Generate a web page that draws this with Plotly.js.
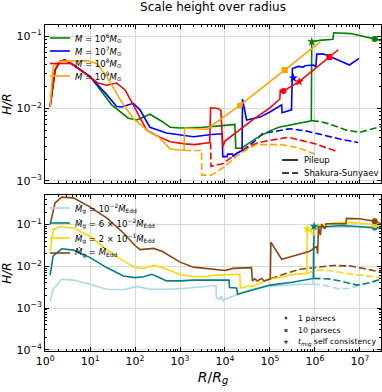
<!DOCTYPE html>
<html>
<head>
<meta charset="utf-8">
<script src="https://cdn.plot.ly/plotly-3.0.1.min.js"></script>
<style>
  html, body { margin: 0; padding: 0; background: #fff; }
  #chart { width: 382px; height: 392px; }
</style>
</head>
<body>
<div id="chart"></div>
<script>
// ---- top panel: H/R for four black hole masses ----
// M = 1e6 Msun (green)
const m6R = [1.29, 1.66, 2.14, 2.75, 4.27, 10, 30.2, 70.8, 110, 214, 398, 603, 1000, 2000, 3311, 7760, 16600, 17400, 23400, 50100, 1e5, 1.58e5, 3.16e5, 5.62e5, 8.32e5, 8.51e5, 1.26e6, 2.51e6, 2.63e6, 6.31e6, 2.14e7, 2.95e7];
const m6H = [0.0106, 0.0339, 0.0447, 0.0468, 0.0398, 0.0275, 0.0112, 0.00733, 0.00692, 0.00832, 0.00661, 0.0055, 0.00537, 0.00543, 0.0055, 0.00575, 0.00603, 0.00282, 0.00282, 0.00389, 0.0049, 0.0055, 0.00603, 0.00646, 0.00676, 0.0832, 0.0871, 0.0902, 0.111, 0.108, 0.0912, 0.0871];
const m6SsR = [8.51e5, 1.26e6, 2.0e6, 3.02e6, 5.01e6, 1e7, 1.58e7, 2.95e7];
const m6SsH = [0.00676, 0.00661, 0.00617, 0.00562, 0.00501, 0.00468, 0.00501, 0.00562];

// M = 1e7 Msun (blue)
const m7R = [1.29, 1.66, 2.14, 2.75, 4.27, 10, 23.4, 38.9, 50.1, 91.2, 129, 214, 501, 1288, 1995, 5012, 8710, 8913, 11200, 11500, 14800, 15100, 18200, 24000, 24500, 30200, 60300, 1e5, 1.82e5, 1.86e5, 3.02e5, 3.16e5, 3.55e5, 4.27e5, 5.5e5, 6.03e5, 9.12e5, 1.05e6, 1.1e6, 1.58e6, 2.51e6, 5.89e6, 9.55e6];
const m7H = [0.0106, 0.0339, 0.0447, 0.0468, 0.0398, 0.0275, 0.0155, 0.0106, 0.01047, 0.01175, 0.00955, 0.0055, 0.00457, 0.00417, 0.00407, 0.00437, 0.00447, 0.00216, 0.00216, 0.00234, 0.00234, 0.00216, 0.0024, 0.00263, 0.0135, 0.00692, 0.00759, 0.00891, 0.0112, 0.00871, 0.00955, 0.0355, 0.0363, 0.038, 0.0372, 0.0389, 0.0398, 0.038, 0.0562, 0.0562, 0.0501, 0.0398, 0.049];
const m7SsR = [24500, 42700, 70800, 1e5, 2.75e5, 6.31e5, 1.58e6, 3.98e6, 9.12e6];
const m7SsH = [0.00263, 0.00339, 0.00457, 0.00468, 0.00525, 0.0049, 0.00427, 0.00372, 0.00339];

// M = 1e8 Msun (red)
const m8R = [1.29, 1.66, 2.14, 2.75, 4.27, 10, 15.1, 23.4, 38.9, 60.3, 100, 182, 363, 603, 1288, 2138, 3548, 4571, 4786, 7079, 8128, 8913, 1e4, 42700, 1e5, 1.66e5, 1.7e5, 2.0e5, 4.47e5, 2.09e6, 3.31e6];
const m8H = [0.0106, 0.0339, 0.0447, 0.0468, 0.0398, 0.0275, 0.0224, 0.0209, 0.0224, 0.018, 0.01, 0.00501, 0.00398, 0.00347, 0.00324, 0.00316, 0.00331, 0.00339, 0.0102, 0.01, 0.00933, 0.00295, 0.00355, 0.00708, 0.0102, 0.0135, 0.0178, 0.0174, 0.0234, 0.0513, 0.0646];
const m8SsR = [4786, 4900, 9120, 18200, 50100, 1e5, 2.57e5, 9.12e5, 3.31e6];
const m8SsH = [0.00339, 0.00158, 0.00174, 0.0024, 0.00331, 0.00363, 0.00398, 0.00331, 0.00251];

// M = 1e9 Msun (orange)
const m9R = [1.29, 1.51, 2.14, 4.27, 8.5, 14.1, 23.4, 46.8, 91.2, 214, 331, 603, 1000, 1230, 1259, 2754, 3311, 3890, 21400, 2.14e5, 1.32e6];
const m9H = [0.0106, 0.038, 0.0447, 0.0447, 0.0457, 0.0417, 0.0275, 0.0132, 0.00724, 0.00468, 0.00407, 0.00275, 0.00263, 0.00263, 0.00537, 0.00525, 0.00513, 0.00513, 0.011, 0.0339, 0.0832];
const m9SsR = [1230, 3020, 3050, 5012, 1e4, 18200, 30200, 50100, 1e5, 1.82e5, 4.68e5, 1e6];
const m9SsH = [0.00263, 0.00263, 0.0012, 0.0012, 0.00158, 0.00219, 0.00269, 0.00316, 0.00316, 0.00316, 0.00282, 0.00234];

// markers, top panel (mass key tells which curve)
const topPc1R = [21400, 2.0e5, 2.14e7];
const topPc1H = [0.011, 0.0174, 0.0912];
const topPc1Mass = ['1e9', '1e8', '1e6'];
const topPc10R = [2.14e5, 2.09e6];
const topPc10H = [0.0339, 0.0513];
const topPc10Mass = ['1e9', '1e8'];
const topTmigR = [3.31e5, 4.47e5, 8.51e5];
const topTmigH = [0.0263, 0.0234, 0.0832];
const topTmigMass = ['1e7', '1e8', '1e6'];

// ---- bottom panel: H/R for four gas accretion rates ----
// Mdot = 1e-2 Mdot_Edd (light blue)
const r1R = [1.29, 1.51, 2.34, 4.27, 10, 23.4, 55, 110, 214, 501, 1175, 3890, 6026, 6310, 6457, 7586, 8318, 9120, 1e4, 2.0e4, 3.63e4, 8.51e4, 2.0e5, 4.68e5, 8.91e5, 9.12e5, 9.77e5, 1e6, 2.0e6, 5.01e6, 1.26e7, 2.95e7];
const r1H = [0.00148, 0.00282, 0.0049, 0.00468, 0.00372, 0.00282, 0.00275, 0.00331, 0.00282, 0.00282, 0.00295, 0.00324, 0.00347, 0.00347, 0.00178, 0.00162, 0.00195, 0.00148, 0.00162, 0.00214, 0.00275, 0.00331, 0.00355, 0.00372, 0.00372, 0.0355, 0.0355, 0.0871, 0.0851, 0.0891, 0.0851, 0.0776];
const r1SsR = [9.12e5, 1.58e6, 3.63e6, 6.31e6, 1.26e7, 2.95e7];
const r1SsH = [0.00372, 0.00355, 0.00282, 0.00302, 0.00372, 0.0049];

// Mdot = 6e-2 Mdot_Edd (teal)
const r6R = [1.29, 1.51, 2.34, 4.27, 10, 23.4, 55, 100, 155, 234, 316, 501, 1000, 1995, 3890, 12300, 12600, 15800, 18200, 19100, 31600, 1e5, 3.16e5, 6.46e5, 9.33e5, 9.55e5, 1.58e6, 3.98e6, 1e7, 2.95e7];
const r6H = [0.00617, 0.0178, 0.0263, 0.0245, 0.0162, 0.00933, 0.00589, 0.00537, 0.00562, 0.00646, 0.00562, 0.00447, 0.00447, 0.00468, 0.00468, 0.00468, 0.00309, 0.00302, 0.00302, 0.00214, 0.00251, 0.00355, 0.00417, 0.0049, 0.00513, 0.0912, 0.0891, 0.0955, 0.0891, 0.0832];
const r6SsR = [9.33e5, 2.0e6, 3.98e6, 8.51e6, 1.58e7, 2.95e7];
const r6SsH = [0.00513, 0.00501, 0.00437, 0.00355, 0.00398, 0.0049];

// Mdot = 2e-1 Mdot_Edd (gold)
const r20R = [1.29, 1.51, 2.14, 4.27, 10, 23.4, 55, 100, 155, 257, 398, 1000, 1995, 3890, 6026, 21400, 21900, 28200, 29500, 36300, 39800, 1e5, 2.0e5, 3.31e5, 6.61e5, 6.76e5, 7.94e5, 8.91e5, 9.55e5, 1e6, 1.41e6, 3.63e6, 7.08e6, 1.41e7, 2.95e7];
const r20H = [0.0229, 0.0759, 0.0891, 0.0832, 0.0525, 0.0251, 0.0135, 0.00933, 0.00891, 0.0105, 0.00933, 0.00646, 0.00562, 0.00562, 0.00617, 0.00646, 0.00309, 0.00309, 0.00339, 0.00339, 0.00324, 0.0049, 0.00562, 0.00646, 0.00676, 0.0794, 0.0759, 0.0575, 0.0575, 0.0912, 0.1, 0.112, 0.11, 0.105, 0.0912];
const r20SsR = [6.76e5, 1e6, 2.0e6, 3.63e6, 7.94e6, 2.95e7];
const r20SsH = [0.00676, 0.00813, 0.00794, 0.00708, 0.00631, 0.00537];

// Mdot = Mdot_Edd (brown)
const r100R = [1.29, 1.66, 2.34, 4.27, 10, 23.4, 55, 100, 129, 257, 398, 1000, 1995, 3890, 1e4, 15100, 38900, 40700, 45700, 52500, 64600, 74100, 1.02e5, 1.05e5, 1.82e5, 3.16e5, 7.76e5, 1e6, 1.1e6, 1.15e6, 1.2e6, 1.32e6, 1.41e6, 1.66e6, 1.78e6, 4.9e6, 5.01e6, 1e7, 2.14e7, 2.95e7];
const r100H = [0.1, 0.331, 0.457, 0.437, 0.263, 0.145, 0.0631, 0.0316, 0.0251, 0.0269, 0.0229, 0.0126, 0.00955, 0.00891, 0.00794, 0.00891, 0.00933, 0.00447, 0.00501, 0.00447, 0.00513, 0.00447, 0.00501, 0.038, 0.0148, 0.0174, 0.0229, 0.0282, 0.0295, 0.02, 0.0891, 0.0562, 0.102, 0.0794, 0.105, 0.105, 0.141, 0.138, 0.12, 0.105];
const r100SsR = [1.05e5, 2.0e5, 4.68e5, 1e6, 2.57e6, 6.31e6, 1.41e7, 2.95e7];
const r100SsH = [0.00501, 0.00646, 0.00851, 0.00933, 0.0105, 0.0102, 0.00851, 0.00724];

// markers, bottom panel
const botPc1R = [2.14e7, 2.14e7, 2.14e7, 2.14e7];
const botPc1H = [0.081, 0.086, 0.098, 0.12];
const botPc1Rate = ['1e-2', '6e-2', '2e-1', '1'];
const botTmigR = [6.76e5, 9.55e5];
const botTmigH = [0.0794, 0.0912];
const botTmigRate = ['2e-1', '6e-2'];

// legend texts
const massLabels = [
  '<i>M</i> = 10<sup>6</sup><i>M</i><sub>⊙</sub>',
  '<i>M</i> = 10<sup>7</sup><i>M</i><sub>⊙</sub>',
  '<i>M</i> = 10<sup>8</sup><i>M</i><sub>⊙</sub>',
  '<i>M</i> = 10<sup>9</sup><i>M</i><sub>⊙</sub>'
];
const rateLabels = [
  '<i>Ṁ</i><sub>g</sub> = 10<sup>−2</sup><i>Ṁ</i><sub>Edd</sub>',
  '<i>Ṁ</i><sub>g</sub> = 6 × 10<sup>−2</sup><i>Ṁ</i><sub>Edd</sub>',
  '<i>Ṁ</i><sub>g</sub> = 2 × 10<sup>−1</sup><i>Ṁ</i><sub>Edd</sub>',
  '<i>Ṁ</i><sub>g</sub> = <i>Ṁ</i><sub>Edd</sub>'
];
const styleLabels = ['Pileup', 'Shakura-Sunyaev'];
const markerLabels = ['1 parsecs', '10 parsecs', '<i>t</i><sub><i>mig</i></sub> self consistency'];

const xTickVals = [1, 10, 100, 1e3, 1e4, 1e5, 1e6, 1e7];
const xTickText = ['10<sup>0</sup>', '10<sup>1</sup>', '10<sup>2</sup>', '10<sup>3</sup>', '10<sup>4</sup>', '10<sup>5</sup>', '10<sup>6</sup>', '10<sup>7</sup>'];
const yTopTickVals = [1e-3, 1e-2, 1e-1];
const yTopTickText = ['10<sup>−3</sup>', '10<sup>−2</sup>', '10<sup>−1</sup>'];
const yBotTickVals = [1e-4, 1e-3, 1e-2, 1e-1];
const yBotTickText = ['10<sup>−4</sup>', '10<sup>−3</sup>', '10<sup>−2</sup>', '10<sup>−1</sup>'];

// ---- styling ----
const massKeys = ['1e6', '1e7', '1e8', '1e9'];
const massColor = { '1e6': '#008000', '1e7': '#0000ff', '1e8': '#ff0000', '1e9': '#ffa500' };
const rateKeys = ['1e-2', '6e-2', '2e-1', '1'];
const rateColor = { '1e-2': '#add8e6', '6e-2': '#008080', '2e-1': '#ffd700', '1': '#8b4513' };
const LW = 1.6;
const DASH = '7px,3px';
const FONT = 'DejaVu Sans';

// plot area in pixels -> paper coords (for legend decoration)
const px2x = px => (px - 45) / 336;
const py2y = py => (351 - py) / 326;

function lineTrace(R, H, color, dashed, xa, ya) {
  return {
    x: R, y: H, xaxis: xa, yaxis: ya,
    type: 'scatter', mode: 'lines',
    line: { color: color, width: LW, dash: dashed ? DASH : 'solid' },
    hoverinfo: 'skip'
  };
}

function markerTrace(R, H, colors, symbol, size, xa, ya) {
  return {
    x: R, y: H, xaxis: xa, yaxis: ya,
    type: 'scatter', mode: 'markers',
    marker: { color: colors, symbol: symbol, size: size, line: { width: 0 } },
    hoverinfo: 'skip'
  };
}

function minorVals(d0, d1, max) {
  const vals = [];
  for (let d = d0; d <= d1; d++) {
    for (let k = 2; k <= 9; k++) {
      const v = k * Math.pow(10, d);
      if (v <= max) vals.push(v);
    }
  }
  return vals;
}

function logAxis(extra) {
  return Object.assign({
    type: 'log',
    showline: true, linecolor: '#000', linewidth: 1,
    mirror: 'allticks', ticks: 'inside', ticklen: 4, tickwidth: 1, tickcolor: '#000',
    showgrid: true, gridcolor: '#d9d9d9', gridwidth: 1,
    zeroline: false, tickmode: 'array',
    tickfont: { family: FONT, size: 11, color: '#000' },
    automargin: false, fixedrange: true
  }, extra);
}

function buildTraces() {
  const traces = [];
  const topSolid = { '1e6': [m6R, m6H], '1e7': [m7R, m7H], '1e8': [m8R, m8H], '1e9': [m9R, m9H] };
  const topSs = { '1e6': [m6SsR, m6SsH], '1e7': [m7SsR, m7SsH], '1e8': [m8SsR, m8SsH], '1e9': [m9SsR, m9SsH] };
  const botSolid = { '1e-2': [r1R, r1H], '6e-2': [r6R, r6H], '2e-1': [r20R, r20H], '1': [r100R, r100H] };
  const botSs = { '1e-2': [r1SsR, r1SsH], '6e-2': [r6SsR, r6SsH], '2e-1': [r20SsR, r20SsH], '1': [r100SsR, r100SsH] };

  massKeys.forEach(k => traces.push(lineTrace(topSs[k][0], topSs[k][1], massColor[k], true, 'x2', 'y2')));
  massKeys.forEach(k => traces.push(lineTrace(topSolid[k][0], topSolid[k][1], massColor[k], false, 'x2', 'y2')));
  rateKeys.forEach(k => traces.push(lineTrace(botSs[k][0], botSs[k][1], rateColor[k], true, 'x', 'y')));
  rateKeys.forEach(k => traces.push(lineTrace(botSolid[k][0], botSolid[k][1], rateColor[k], false, 'x', 'y')));

  traces.push(markerTrace(topPc1R, topPc1H, topPc1Mass.map(k => massColor[k]), 'circle', 6, 'x2', 'y2'));
  traces.push(markerTrace(topPc10R, topPc10H, topPc10Mass.map(k => massColor[k]), 'square', 6, 'x2', 'y2'));
  traces.push(markerTrace(topTmigR, topTmigH, topTmigMass.map(k => massColor[k]), 'star', 7, 'x2', 'y2'));
  traces.push(markerTrace(botPc1R, botPc1H, botPc1Rate.map(k => rateColor[k]), 'circle', 6, 'x', 'y'));
  traces.push(markerTrace(botTmigR, botTmigH, botTmigRate.map(k => rateColor[k]), 'star', 7, 'x', 'y'));

  // legend marker samples on an invisible overlay
  const mRows = [318, 330.5, 342];
  traces.push({
    x: mRows.map(() => px2x(286)), y: mRows.map(py2y), xaxis: 'x3', yaxis: 'y3',
    type: 'scatter', mode: 'markers', hoverinfo: 'skip',
    marker: { color: '#000', symbol: ['circle', 'square', 'star'], size: [4, 4, 6] }
  });
  return traces;
}

function buildLegends() {
  const shapes = [];
  const annotations = [];
  const note = (px, py, text, size) => annotations.push({
    x: px2x(px), y: py2y(py), xref: 'paper', yref: 'paper',
    xanchor: 'left', yanchor: 'middle', showarrow: false, text: text,
    font: { family: FONT, size: size || 8.5, color: '#000' }
  });
  const sample = (x0, x1, py, color, dashed) => shapes.push({
    type: 'line', xref: 'paper', yref: 'paper',
    x0: px2x(x0), x1: px2x(x1), y0: py2y(py), y1: py2y(py),
    line: { color: color, width: LW, dash: dashed ? DASH : 'solid' }
  });

  [38, 51, 63.5, 76].forEach((py, i) => {
    sample(50, 70, py, massColor[massKeys[i]], false);
    note(73, py, massLabels[i]);
  });
  [160, 173].forEach((py, i) => {
    sample(282, 298, py, '#000', i === 1);
    note(302, py, styleLabels[i]);
  });
  [208, 223, 238, 253].forEach((py, i) => {
    sample(50, 70, py, rateColor[rateKeys[i]], false);
    note(73, py, rateLabels[i]);
  });
  [318, 330.5, 342].forEach((py, i) => note(296, py, markerLabels[i], 7.8));
  return { shapes, annotations };
}

function render() {
  const legends = buildLegends();
  const xCommon = {
    range: [-0.003, 7.47], tickvals: xTickVals, ticktext: xTickText,
    minor: { tickmode: 'array', tickvals: minorVals(0, 7, 2.95e7), ticks: 'inside', ticklen: 2, tickcolor: '#000', showgrid: false }
  };
  const layout = {
    width: 382, height: 392,
    margin: { l: 45, r: 1, t: 25, b: 41 },
    paper_bgcolor: '#ffffff', plot_bgcolor: 'rgba(0,0,0,0)',
    font: { family: FONT, size: 11, color: '#000' },
    showlegend: false,
    title: {
      text: 'Scale height over radius', font: { family: FONT, size: 12, color: '#000' },
      x: 0.5, xref: 'paper', xanchor: 'center', y: 0.982, yref: 'container', yanchor: 'middle'
    },
    xaxis: logAxis(Object.assign({}, xCommon, {
      anchor: 'y',
      title: { text: '<i>R</i>/<i>R</i><sub><i>g</i></sub>', font: { family: FONT, size: 14 }, standoff: 4 }
    })),
    xaxis2: logAxis(Object.assign({}, xCommon, { anchor: 'y2', matches: 'x', showticklabels: false })),
    yaxis: logAxis({
      anchor: 'x', domain: [0, 0.4785], range: [-4.03, -0.29],
      tickvals: yBotTickVals, ticktext: yBotTickText,
      minor: { tickmode: 'array', tickvals: minorVals(-4, -1, 0.5), ticks: 'inside', ticklen: 2, tickcolor: '#000', showgrid: false },
      title: { text: '<i>H/R</i>', font: { family: FONT, size: 12 }, standoff: 2 }
    }),
    yaxis2: logAxis({
      anchor: 'x2', domain: [0.5153, 1], range: [-3.03, -0.848],
      tickvals: yTopTickVals, ticktext: yTopTickText,
      minor: { tickmode: 'array', tickvals: minorVals(-4, -1, 0.5), ticks: 'inside', ticklen: 2, tickcolor: '#000', showgrid: false },
      title: { text: '<i>H/R</i>', font: { family: FONT, size: 12 }, standoff: 2 }
    }),
    xaxis3: { domain: [0, 1], range: [0, 1], visible: false, anchor: 'y3', fixedrange: true },
    yaxis3: { domain: [0, 1], range: [0, 1], visible: false, anchor: 'x3', fixedrange: true },
    shapes: legends.shapes,
    annotations: legends.annotations
  };

  Plotly.newPlot('chart', buildTraces(), layout, { staticPlot: true, displayModeBar: false });
}

document.addEventListener('DOMContentLoaded', render);
</script>
</body>
</html>
